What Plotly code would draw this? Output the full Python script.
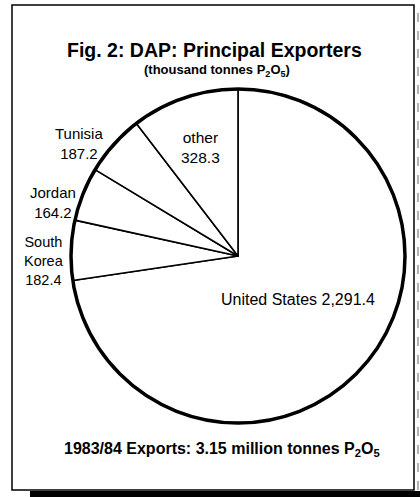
import plotly.graph_objects as go

# ---- data ----
countries = ["United States", "South Korea", "Jordan", "Tunisia", "other"]
exports = [2291.4, 182.4, 164.2, 187.2, 328.3]
title_text = "Fig. 2: DAP: Principal Exporters"
subtitle_text = "(thousand tonnes P<sub>2</sub>O<sub>5</sub>)"
footer_text = "1983/84 Exports: 3.15 million tonnes P<sub>2</sub>O<sub>5</sub>"

W, H = 420, 497
FONT = "Liberation Sans, Arial, Helvetica, sans-serif"


def px(x):
    return x / W


def py(y):
    return 1 - y / H


# pie geometry (pixels)
cx, cy, r = 238, 256, 167
dom_x = [px(cx - r), px(cx + r)]
dom_y = [py(cy + r), py(cy - r)]

fig = go.Figure()
fig.add_trace(go.Pie(
    labels=countries, values=exports, sort=False, direction="clockwise",
    rotation=0, textinfo="none", hoverinfo="label+value",
    marker=dict(colors=["white"] * len(countries), line=dict(color="black", width=1.6)),
    domain=dict(x=dom_x, y=dom_y), showlegend=False,
))
# thick outer rim
fig.add_trace(go.Pie(
    labels=["total"], values=[sum(exports)], textinfo="none", hoverinfo="skip",
    marker=dict(colors=["rgba(0,0,0,0)"], line=dict(color="black", width=3.5)),
    domain=dict(x=dom_x, y=dom_y), showlegend=False,
))


def fmt(v):
    return f"{v:,.1f}"


label_pos = {
    "United States": (298, 299, 16),
    "South Korea": (44, 261, 14.5),
    "Jordan": (53, 202, 15),
    "Tunisia": (79, 143, 15),
    "other": (200, 147, 15.5),
}
label_text = {
    "United States": f"United States {fmt(exports[0])}",
    "South Korea": f"South<br>Korea<br>{fmt(exports[1])}",
    "Jordan": f"Jordan<br>{fmt(exports[2])}",
    "Tunisia": f"Tunisia<br>{fmt(exports[3])}",
    "other": f"other<br>{fmt(exports[4])}",
}
annotations = []
for c in countries:
    x, y, fs = label_pos[c]
    annotations.append(dict(
        x=px(x), y=py(y), xref="paper", yref="paper", text=label_text[c],
        showarrow=False, align="center", font=dict(family=FONT, size=fs, color="black"),
        xanchor="center", yanchor="middle",
    ))

annotations += [
    dict(x=px(215), y=py(50), xref="paper", yref="paper", text=f"<b>{title_text}</b>",
         showarrow=False, font=dict(family=FONT, size=19.5, color="black"),
         xanchor="center", yanchor="middle"),
    dict(x=px(217), y=py(71), xref="paper", yref="paper", text=f"<b>{subtitle_text}</b>",
         showarrow=False, font=dict(family=FONT, size=13, color="black"),
         xanchor="center", yanchor="middle"),
    dict(x=px(222), y=py(449), xref="paper", yref="paper", text=f"<b>{footer_text}</b>",
         showarrow=False, font=dict(family=FONT, size=16, color="black"),
         xanchor="center", yanchor="middle"),
]

shapes = [
    # frame
    dict(type="rect", xref="paper", yref="paper", x0=px(12), x1=px(414), y0=py(490), y1=py(5),
         line=dict(color="black", width=1.5)),
    # bottom shadow
    dict(type="rect", xref="paper", yref="paper", x0=px(30), x1=px(420), y0=py(497), y1=py(491),
         line=dict(width=0), fillcolor="black"),
    # faint right shadow
    dict(type="line", xref="paper", yref="paper", x0=px(418), x1=px(418), y0=py(490), y1=py(10),
         line=dict(color="#9a9a9a", width=1.5, dash="dash")),
]

fig.update_layout(
    width=W, height=H, margin=dict(l=0, r=0, t=0, b=0),
    paper_bgcolor="white", plot_bgcolor="white",
    annotations=annotations, shapes=shapes, showlegend=False,
)
fig.write_html(
    "out.html",
    config={"displayModeBar": False},
    post_script="document.body.style.margin='0';document.body.style.overflow='hidden';",
)
